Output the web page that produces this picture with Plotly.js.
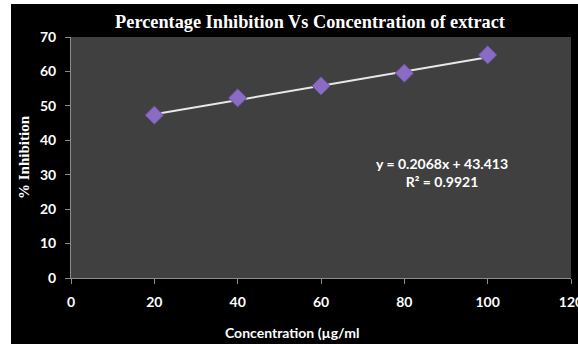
<!DOCTYPE html>
<html>
<head>
<meta charset="utf-8">
<script src="https://cdn.plot.ly/plotly-3.0.1.min.js"></script>
<style>
html,body{margin:0;padding:0;background:#ffffff;overflow:hidden;}
#chart{position:absolute;left:11px;top:4px;width:567px;height:340px;}
</style>
</head>
<body>
<div id="chart"></div>
<script>
const concentration = [20, 40, 60, 80, 100];
const inhibition = [47.3, 52.3, 55.8, 59.5, 64.8];
const slope = 0.2068;
const intercept = 43.413;
const rSquared = 0.9921;
const xTicks = [0, 20, 40, 60, 80, 100, 120];
const yTicks = [0, 10, 20, 30, 40, 50, 60, 70];

const trendX = [concentration[0], concentration[concentration.length - 1]];
const trendY = trendX.map(x => slope * x + intercept);

const sansFam = 'Lato, "Liberation Sans", sans-serif';
const tickFont = {family: sansFam, size: 14, color: '#ffffff', weight: 'bold'};

const data = [
  {
    x: trendX, y: trendY, type: 'scatter', mode: 'lines',
    line: {color: '#e8e8e8', width: 2}, hoverinfo: 'skip', showlegend: false
  },
  {
    x: concentration, y: inhibition, type: 'scatter', mode: 'markers',
    marker: {symbol: 'diamond', size: 14, color: '#8a6cc4', line: {color: '#6a4fa0', width: 1}},
    showlegend: false
  }
];

const layout = {
  width: 567, height: 340,
  paper_bgcolor: '#000000',
  plot_bgcolor: '#404040',
  margin: {l: 60, r: 7, t: 33, b: 66},
  title: {
    text: '<b>Percentage Inhibition Vs Concentration of extract</b>',
    font: {family: '"Liberation Serif", "DejaVu Serif", serif', size: 18.3, color: '#ffffff'},
    xref: 'container', yref: 'container', x: 299/567, y: 1 - 18/340,
    xanchor: 'center', yanchor: 'middle'
  },
  xaxis: {
    range: [0, 120], tickvals: xTicks, ticktext: xTicks.map(String),
    showgrid: false, zeroline: false, showline: true, linecolor: '#8c8c8c', linewidth: 1,
    ticks: 'outside', ticklen: 5, tickcolor: '#8c8c8c', tickfont: tickFont,
    ticklabelstandoff: 6, ticklabeloverflow: 'allow', fixedrange: true
  },
  yaxis: {
    range: [0, 70], tickvals: yTicks, ticktext: yTicks.map(String),
    showgrid: false, zeroline: false, showline: true, linecolor: '#8c8c8c', linewidth: 1,
    ticks: 'outside', ticklen: 5, tickcolor: '#8c8c8c', tickfont: tickFont,
    ticklabelstandoff: 6,
    title: {
      text: '<b>% Inhibition</b>',
      font: {family: '"Liberation Serif", "DejaVu Serif", serif', size: 15, color: '#ffffff'},
      standoff: 6
    },
    fixedrange: true
  },
  annotations: [
    {
      text: '<b>Concentration (µg/ml</b>',
      xref: 'paper', yref: 'paper',
      x: (292 - 71) / 500, y: -54 / 241,
      xanchor: 'center', yanchor: 'middle', showarrow: false,
      font: {family: sansFam, size: 14, color: '#ffffff'}
    },
    {
      text: '<b>y = ' + slope + 'x + ' + intercept + '</b><br><b>R² = ' + rSquared + '</b>',
      xref: 'paper', yref: 'paper',
      x: (442 - 71) / 500, y: (278 - 172) / 241,
      xanchor: 'center', yanchor: 'middle', showarrow: false, align: 'center',
      font: {family: sansFam, size: 14, color: '#ffffff'}
    }
  ]
};

Plotly.newPlot('chart', data, layout, {displayModeBar: false, staticPlot: true});
</script>
</body>
</html>
